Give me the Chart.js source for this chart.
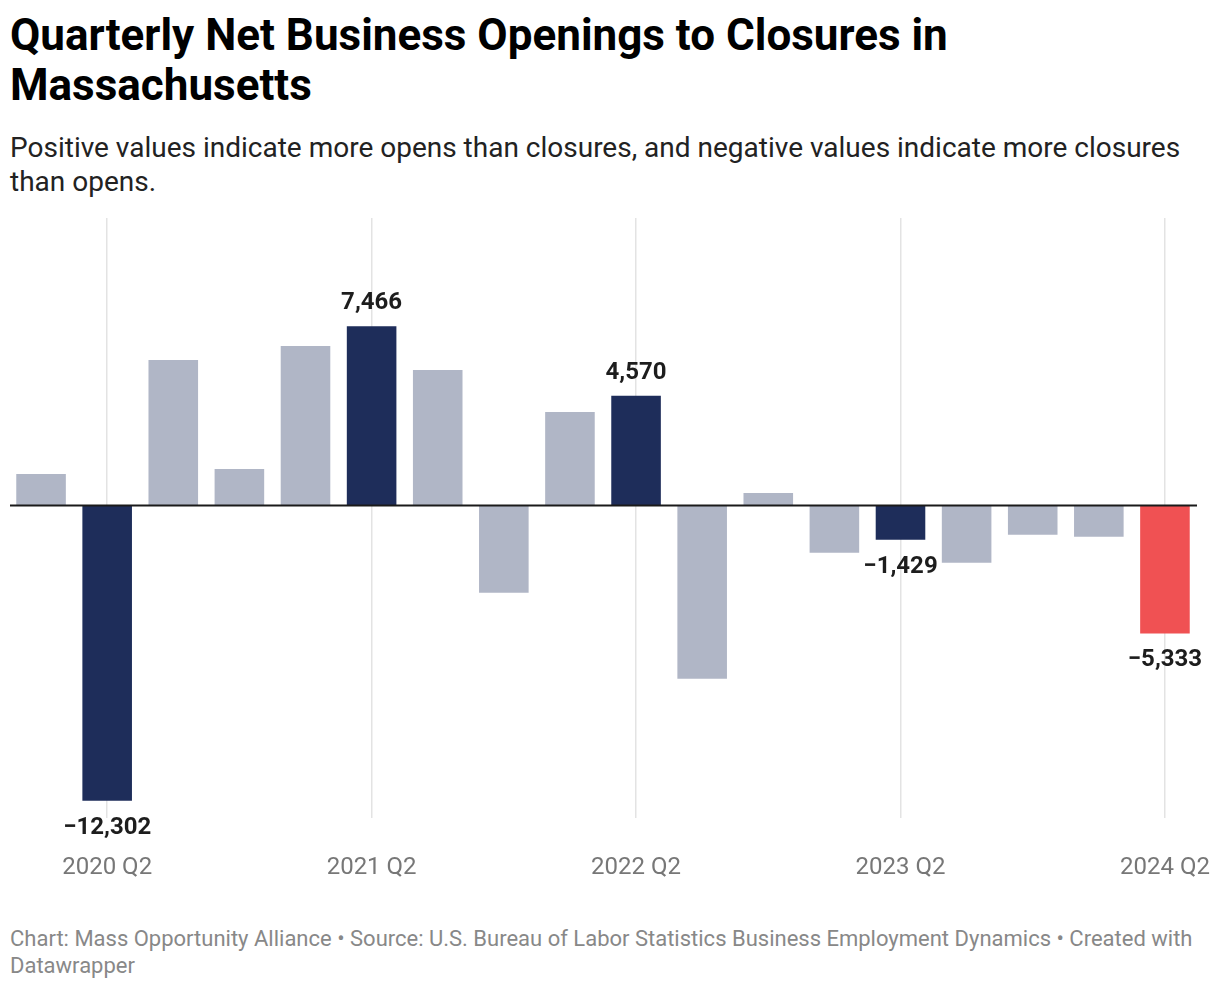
<!DOCTYPE html>
<html>
<head>
<meta charset="utf-8">
<script src="https://cdn.jsdelivr.net/npm/chart.js@4.4.1/dist/chart.umd.min.js"></script>
<style>
  html, body { margin: 0; padding: 0; background: #fff; }
  body { width: 1220px; height: 988px; position: relative; overflow: hidden; font-family: Roboto, "Noto Sans", sans-serif; }
  #title { position: absolute; left: 10px; top: 10px; width: 1200px; font-size: 44px; line-height: 50px; font-weight: 700; color: #000; }
  #subtitle { position: absolute; left: 10px; top: 130.5px; width: 1200px; font-size: 28px; line-height: 34px; color: #222; }
  #chartBox { position: absolute; left: 0; top: 200px; width: 1220px; height: 700px; }
  #footer { position: absolute; left: 10px; top: 925px; width: 1200px; font-size: 22px; line-height: 27px; color: #888; }
</style>
</head>
<body>
<div id="title">Quarterly Net Business Openings to Closures in Massachusetts</div>
<div id="subtitle">Positive values indicate more opens than closures, and negative values indicate more closures than opens.</div>
<div id="chartBox"><canvas id="netChart"></canvas></div>
<div id="footer">Chart: Mass Opportunity Alliance • Source: U.S. Bureau of Labor Statistics Business Employment Dynamics • Created with Datawrapper</div>

<script>
// quarters, 2020 Q1 .. 2024 Q2
const quarters = [
    '2020 Q1', '2020 Q2', '2020 Q3', '2020 Q4',
    '2021 Q1', '2021 Q2', '2021 Q3', '2021 Q4',
    '2022 Q1', '2022 Q2', '2022 Q3', '2022 Q4',
    '2023 Q1', '2023 Q2', '2023 Q3', '2023 Q4',
    '2024 Q1', '2024 Q2'
];
// net openings minus closures
const netOpenings = [
    1310, -12302, 6060, 1520,
    6640, 7466, 5640, -3640,
    3890, 4570, -7220, 520,
    -1970, -1429, -2390, -1220,
    -1310, -5333
];
// quarters that get a highlight colour and a value label
const labelledQuarters = ['2020 Q2', '2021 Q2', '2022 Q2', '2023 Q2', '2024 Q2'];
const latestQuarter = '2024 Q2';
const tickQuarters = ['2020 Q2', '2021 Q2', '2022 Q2', '2023 Q2', '2024 Q2'];

function barColor(q) {
    if (q === latestQuarter) return '#f05153';
    if (labelledQuarters.includes(q)) return '#1e2d5a';
    return '#b0b6c6';
}

function fmt(v) {
    const s = Math.abs(v).toLocaleString('en-US');
    return v < 0 ? '\u2212' + s : s;
}

const valueLabels = {
    id: 'valueLabels',
    afterDatasetsDraw(chart) {
        const ctx = chart.ctx;
        const yScale = chart.scales.y;
        const zero = yScale.getPixelForValue(0);
        // zero line
        ctx.save();
        ctx.strokeStyle = '#1a1a1a';
        ctx.lineWidth = 2;
        ctx.beginPath();
        ctx.moveTo(chart.chartArea.left + 2, zero);
        ctx.lineTo(chart.chartArea.right - 1, zero);
        ctx.stroke();

        ctx.font = 'bold 24px Roboto';
        ctx.fillStyle = '#1d1d1d';
        ctx.textAlign = 'center';
        ctx.textBaseline = 'middle';
        const meta = chart.getDatasetMeta(0);
        meta.data.forEach((bar, i) => {
            if (!labelledQuarters.includes(quarters[i])) return;
            const v = netOpenings[i];
            const y = v >= 0 ? bar.y - 23 : bar.y + 27;
            ctx.fillText(fmt(v), bar.x, y);
        });
        ctx.restore();
    }
};

document.addEventListener('DOMContentLoaded', function () {
    const canvas = document.getElementById('netChart');
    const ctx = canvas.getContext('2d');
    new Chart(ctx, {
        type: 'bar',
        data: {
            labels: quarters,
            datasets: [{
                label: 'Net openings',
                data: netOpenings,
                backgroundColor: quarters.map(barColor),
                borderWidth: 0,
                categoryPercentage: 1,
                barPercentage: 0.75
            }]
        },
        options: {
            responsive: true,
            maintainAspectRatio: false,
            animation: false,
            layout: { padding: { left: 8, right: 22, top: 18, bottom: 0 } },
            plugins: {
                legend: { display: false },
                tooltip: { enabled: false }
            },
            scales: {
                x: {
                    border: { display: false },
                    afterFit: function (scale) {
                        scale.height = 82;
                        scale.paddingLeft = 0;
                        scale.paddingRight = 0;
                    },
                    grid: {
                        offset: false,
                        drawTicks: false,
                        lineWidth: 1.5,
                        color: (c) => tickQuarters.includes(quarters[c.index]) ? '#e3e3e3' : 'rgba(0,0,0,0)'
                    },
                    ticks: {
                        autoSkip: false,
                        maxRotation: 0,
                        padding: 36,
                        color: '#777',
                        font: { family: 'Roboto', size: 24 },
                        callback: function (val, idx) {
                            const q = quarters[idx];
                            return tickQuarters.includes(q) ? q : '';
                        }
                    }
                },
                y: {
                    display: false,
                    min: -13020,
                    max: 11970
                }
            }
        },
        plugins: [valueLabels]
    });
});
</script>
</body>
</html>
